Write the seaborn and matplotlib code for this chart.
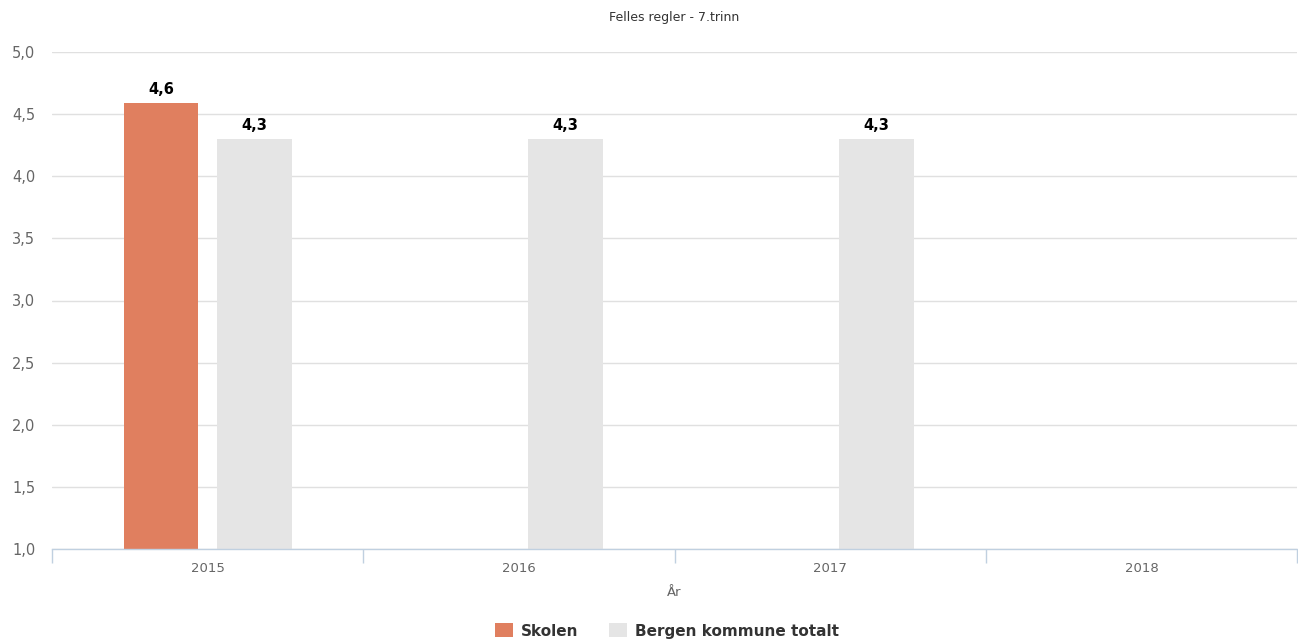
import matplotlib
matplotlib.use("Agg")
import matplotlib.pyplot as plt
import seaborn as sns
import pandas as pd
import numpy as np
from matplotlib.patches import Patch

years = ["2015", "2016", "2017", "2018"]
skolen = [4.59, np.nan, np.nan, np.nan]
bergen = [4.3, 4.3, 4.3, np.nan]
series_names = ["Skolen", "Bergen kommune totalt"]
colors = ["#E07F5F", "#E5E5E5"]
y_ticks = [1.0, 1.5, 2.0, 2.5, 3.0, 3.5, 4.0, 4.5, 5.0]

df = pd.DataFrame({
    "År": years * 2,
    "value": skolen + bergen,
    "series": [series_names[0]] * 4 + [series_names[1]] * 4,
})

sns.set_theme(style="white")
plt.rcParams['font.family'] = ['DejaVu Sans']

fig = plt.figure(figsize=(12.98, 6.41), dpi=100)
ax = fig.add_axes([52/1298, 1 - 549/641, 1245/1298, 497/641])

sns.barplot(data=df, x="År", y="value", hue="series", order=years,
            hue_order=series_names, palette=colors, width=0.6, gap=0.2,
            errorbar=None, legend=False, ax=ax, saturation=1, linewidth=0)

ax.set_ylim(1.0, 5.0)
ax.set_xlim(-0.5, 3.5)
ax.set_yticks(y_ticks)
ax.set_yticklabels([f"{t:.1f}".replace(".", ",") for t in y_ticks],
                   color="#666666", fontsize=10.5)
ax.yaxis.grid(True, color="#E0E0E0", linewidth=1)
ax.set_axisbelow(True)
ax.tick_params(axis="y", length=0, pad=12)

ax.set_xticks(range(len(years)))
ax.set_xticklabels(years, color="#666666", fontsize=9.5)
ax.set_xticks([-0.5, 0.5, 1.5, 2.5, 3.5], minor=True)
ax.tick_params(axis="x", which="major", length=0, pad=9)
ax.tick_params(axis="x", which="minor", length=10, width=1, color="#C0D0E0",
               direction="out", bottom=True)

for s in ["top", "right", "left"]:
    ax.spines[s].set_visible(False)
ax.spines["bottom"].set_color("#C0D0E0")
ax.spines["bottom"].set_linewidth(1)

ax.set_xlabel("År", color="#666666", fontsize=9.5, labelpad=8)
ax.set_ylabel("")
ax.set_title("Felles regler - 7.trinn", color="#333333", fontsize=9, pad=22)

for cont in ax.containers:
    labels = []
    for bar in cont:
        h = bar.get_height()
        if np.isnan(h) or h == 0:
            labels.append("")
        else:
            labels.append(f"{h:.1f}".replace(".", ","))
    ax.bar_label(cont, labels=labels, padding=4, fontsize=10.5,
                 fontweight="bold", color="#000000")

handles = [Patch(facecolor=c, edgecolor="none") for c in colors]
fig.legend(handles, series_names, loc="center",
           bbox_to_anchor=(667/1298, 1 - 631/641),
           ncol=2, frameon=False, handlelength=1.2, handleheight=1.0,
           columnspacing=2.0, handletextpad=0.5,
           prop={"weight": "bold", "size": 11}, labelcolor="#333333")

fig.savefig("out.png", dpi=100)
